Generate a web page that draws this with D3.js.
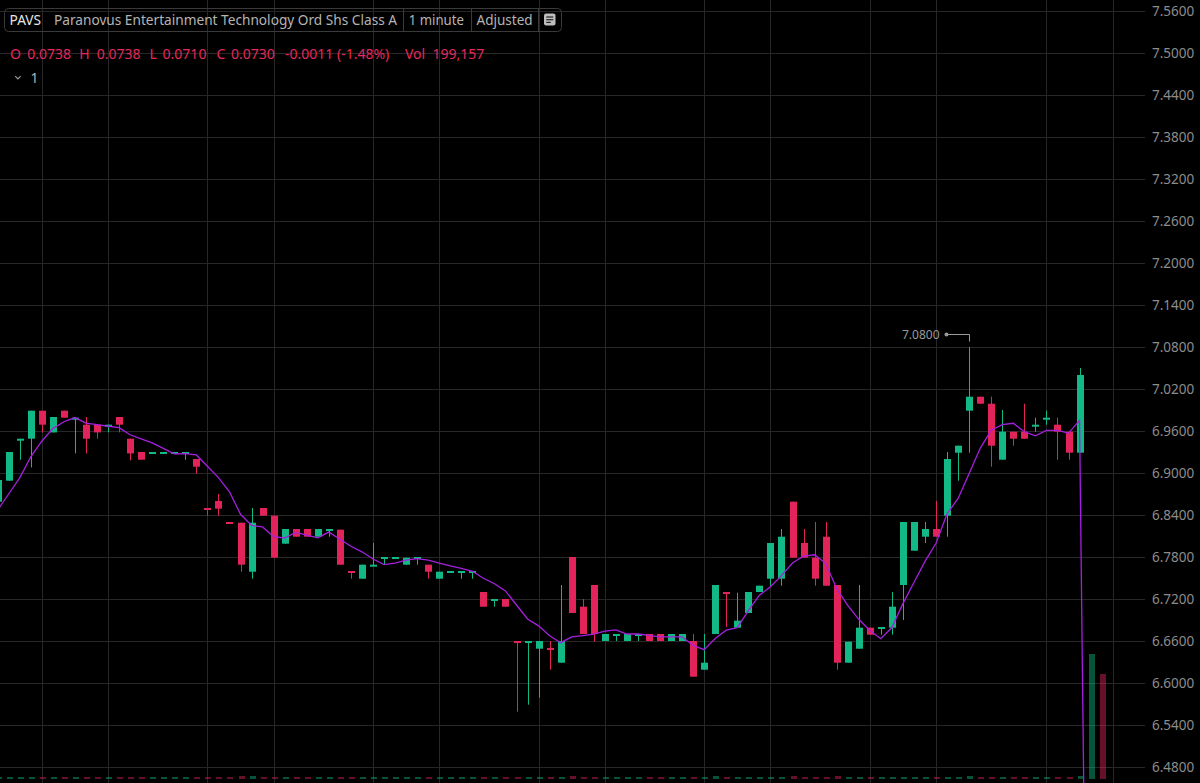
<!DOCTYPE html>
<html>
<head>
<meta charset="utf-8">
<script src="https://cdn.jsdelivr.net/npm/d3@7"></script>
<style>
  html, body { margin: 0; padding: 0; background: #000; overflow: hidden; }
  svg { display: block; }
</style>
</head>
<body>
<svg id="chart"></svg>
<script>
// 1 minute bars, PAVS. last two bars are after the 1:100 drop (off the price scale)
const open = [
  6.859, 6.889, 6.948, 6.949, 6.989, 6.958, 6.989, 6.978, 6.969, 6.969,
  6.966, 6.980, 6.949, 6.930, 6.929, 6.929, 6.929, 6.929, 6.920, 6.850,
  6.860, 6.830, 6.829, 6.759, 6.850, 6.839, 6.799, 6.820, 6.820, 6.809,
  6.819, 6.819, 6.760, 6.749, 6.768, 6.779, 6.779, 6.769, 6.779, 6.769,
  6.749, 6.759, 6.759, 6.759, 6.730, 6.719, 6.720, 6.660, 6.659, 6.649,
  6.650, 6.629, 6.780, 6.709, 6.740, 6.660, 6.669, 6.660, 6.669, 6.670,
  6.670, 6.660, 6.660, 6.660, 6.619, 6.670, 6.730, 6.679, 6.700, 6.730,
  6.749, 6.749, 6.859, 6.800, 6.779, 6.809, 6.740, 6.629, 6.649, 6.679,
  6.679, 6.679, 6.740, 6.789, 6.809, 6.820, 6.839, 6.929, 6.989, 7.009,
  6.999, 6.919, 6.959, 6.959, 6.968, 6.978, 6.969, 6.959, 6.929, 0.0712,
  0.0738
];
const high = [
  6.890, 6.930, 6.949, 6.989, 6.989, 6.980, 6.989, 6.979, 6.980, 6.969,
  6.969, 6.980, 6.949, 6.930, 6.930, 6.930, 6.930, 6.930, 6.920, 6.850,
  6.870, 6.830, 6.829, 6.850, 6.850, 6.839, 6.820, 6.820, 6.820, 6.820,
  6.820, 6.819, 6.760, 6.769, 6.800, 6.780, 6.780, 6.779, 6.780, 6.769,
  6.759, 6.760, 6.760, 6.760, 6.730, 6.720, 6.720, 6.660, 6.660, 6.660,
  6.660, 6.740, 6.780, 6.720, 6.740, 6.670, 6.670, 6.670, 6.670, 6.670,
  6.670, 6.670, 6.670, 6.670, 6.670, 6.740, 6.730, 6.729, 6.730, 6.739,
  6.800, 6.820, 6.859, 6.820, 6.830, 6.830, 6.740, 6.659, 6.740, 6.679,
  6.680, 6.730, 6.830, 6.830, 6.830, 6.860, 6.930, 6.939, 7.080, 7.009,
  7.009, 6.990, 6.959, 6.999, 6.979, 6.989, 6.979, 6.959, 7.050, 0.0745,
  0.0738
];
const low = [
  6.859, 6.889, 6.919, 6.908, 6.958, 6.958, 6.979, 6.928, 6.928, 6.949,
  6.958, 6.958, 6.918, 6.919, 6.929, 6.929, 6.929, 6.919, 6.899, 6.839,
  6.839, 6.829, 6.759, 6.749, 6.839, 6.779, 6.799, 6.809, 6.809, 6.809,
  6.809, 6.769, 6.749, 6.749, 6.768, 6.769, 6.779, 6.769, 6.769, 6.749,
  6.749, 6.759, 6.749, 6.749, 6.709, 6.709, 6.709, 6.559, 6.569, 6.579,
  6.619, 6.629, 6.700, 6.670, 6.659, 6.660, 6.660, 6.660, 6.660, 6.660,
  6.660, 6.660, 6.660, 6.609, 6.619, 6.670, 6.680, 6.679, 6.700, 6.730,
  6.739, 6.739, 6.779, 6.779, 6.739, 6.739, 6.619, 6.629, 6.649, 6.669,
  6.669, 6.669, 6.690, 6.789, 6.800, 6.809, 6.809, 6.889, 6.929, 6.999,
  6.909, 6.919, 6.939, 6.949, 6.959, 6.969, 6.919, 6.919, 6.929, 0.0705,
  0.0710
];
const close = [
  6.890, 6.930, 6.949, 6.989, 6.969, 6.980, 6.979, 6.979, 6.949, 6.958,
  6.969, 6.969, 6.928, 6.919, 6.930, 6.930, 6.930, 6.930, 6.909, 6.849,
  6.849, 6.829, 6.769, 6.829, 6.839, 6.779, 6.820, 6.809, 6.809, 6.820,
  6.820, 6.769, 6.759, 6.769, 6.769, 6.780, 6.780, 6.779, 6.780, 6.759,
  6.759, 6.760, 6.760, 6.760, 6.709, 6.720, 6.709, 6.659, 6.660, 6.660,
  6.649, 6.660, 6.700, 6.670, 6.670, 6.670, 6.670, 6.670, 6.670, 6.660,
  6.660, 6.670, 6.670, 6.609, 6.629, 6.740, 6.729, 6.689, 6.730, 6.739,
  6.800, 6.809, 6.779, 6.779, 6.749, 6.739, 6.629, 6.659, 6.679, 6.669,
  6.680, 6.709, 6.830, 6.830, 6.820, 6.809, 6.920, 6.939, 7.009, 6.999,
  6.939, 6.959, 6.949, 6.949, 6.969, 6.979, 6.959, 6.929, 7.040, 0.0741,
  0.0730
];
const volume = [
  3800, 4200, 3100, 4500, 3600, 3300, 2900, 3400, 3900, 3000,
  2800, 3200, 3700, 3100, 2600, 2500, 2700, 3000, 3500, 3300,
  3600, 2900, 4800, 5200, 3100, 4400, 3400, 2900, 3000, 3200,
  2800, 4300, 3100, 3500, 3300, 2900, 2700, 3000, 2800, 3200,
  3100, 2600, 2800, 2700, 3600, 2900, 3000, 4700, 4100, 3900,
  3300, 4600, 5100, 3800, 4400, 2900, 2700, 2800, 2600, 2900,
  3000, 2800, 2900, 4200, 3500, 4800, 3100, 3300, 3700, 3200,
  4100, 4300, 4900, 3700, 4000, 4400, 5000, 3800, 3900, 2900,
  2800, 3600, 4700, 4100, 3300, 3200, 4600, 3600, 5200, 3100,
  4300, 3800, 3000, 3400, 2900, 3000, 3300, 3400, 5000, 236000,
  199157
];
// closes of the four bars before the first one on screen (only feed the MA)
const leadCloses = [6.815, 6.834, 6.839, 6.857];
const maPeriod = 5;

const priceTicks = [6.48, 6.54, 6.60, 6.66, 6.72, 6.78, 6.84, 6.90, 6.96, 7.02,
                    7.08, 7.14, 7.20, 7.26, 7.32, 7.38, 7.44, 7.50, 7.56];
// bars where the time grid falls
const timeGridBars = [4, 10, 19, 25, 34, 40, 49, 55, 64, 70, 79, 85, 95, 101];

const ticker = "PAVS";
const security = "Paranovus Entertainment Technology Ord Shs Class A";
const interval = "1 minute";
const adjust = "Adjusted";

const width = 1200, height = 783;
const green = "#12b886", red = "#e2245a";
const gridColor = "#272727";
const font = "'Noto Sans', 'Open Sans', sans-serif";

const svg = d3.select("#chart")
    .attr("width", width)
    .attr("height", height)
    .style("background", "#000");

const x = d3.scaleLinear().domain([0, 101]).range([-2.37, 1112.67]);
const y = d3.scaleLinear().domain([6.48, 7.56]).range([767, 11]);
const yVol = d3.scaleLinear().domain([0, 250000]).range([779, 647]);

const bars = close.map((c, i) => ({
    i, o: open[i], h: high[i], l: low[i], c, v: volume[i], up: c >= open[i]
}));

const allCloses = leadCloses.concat(close);
const ma = close.map((c, i) => {
    const k = i + leadCloses.length;
    return d3.mean(allCloses.slice(k - maPeriod + 1, k + 1));
});

// grid
svg.append("g")
    .selectAll("line")
    .data(priceTicks)
    .join("line")
    .attr("x1", 0)
    .attr("x2", 1145)
    .attr("y1", d => Math.round(y(d)) + 0.5)
    .attr("y2", d => Math.round(y(d)) + 0.5)
    .attr("stroke", gridColor);

svg.append("g")
    .selectAll("line")
    .data(timeGridBars)
    .join("line")
    .attr("x1", d => Math.round(x(d)) + 0.5)
    .attr("x2", d => Math.round(x(d)) + 0.5)
    .attr("y1", 0)
    .attr("y2", height)
    .attr("stroke", gridColor);

// price axis
svg.append("g")
    .attr("transform", "translate(1148,0)")
    .call(d3.axisRight(y)
        .tickValues(priceTicks)
        .tickSize(0)
        .tickPadding(4)
        .tickFormat(d3.format(".4f")))
    .call(g => g.select(".domain").remove())
    .selectAll("text")
    .attr("fill", "#8c8c8c")
    .style("font", `13.5px ${font}`);

// volume (min 2px so the quiet bars still show as a dashed strip)
svg.append("g")
    .attr("shape-rendering", "crispEdges")
    .selectAll("rect")
    .data(bars)
    .join("rect")
    .attr("x", d => Math.round(x(d.i)) - 2)
    .attr("width", 6)
    .attr("y", d => Math.min(yVol(0) - 2, Math.round(yVol(d.v))))
    .attr("height", d => Math.max(2, yVol(0) - Math.round(yVol(d.v))))
    .attr("fill", d => d.up ? green : red)
    .attr("fill-opacity", 0.45);

// candles
const candle = svg.append("g")
    .selectAll("g")
    .data(bars)
    .join("g");

candle.append("line")
    .attr("x1", d => Math.round(x(d.i)) + 0.5)
    .attr("x2", d => Math.round(x(d.i)) + 0.5)
    .attr("y1", d => y(d.h))
    .attr("y2", d => y(d.l))
    .attr("stroke", d => d.up ? green : red);

candle.append("rect")
    .attr("x", d => Math.round(x(d.i)) - 3)
    .attr("width", 7)
    .attr("y", d => y(Math.max(d.o, d.c)))
    .attr("height", d => Math.max(2, Math.abs(y(d.o) - y(d.c))))
    .attr("fill", d => d.up ? green : red);

// moving average
svg.append("path")
    .datum(ma)
    .attr("fill", "none")
    .attr("stroke", "#a61fe0")
    .attr("stroke-width", 1.3)
    .attr("d", d3.line()
        .x((d, i) => x(i))
        .y(d => y(d)));

// session high marker
const hiIdx = d3.maxIndex(high);
const hx = Math.round(x(hiIdx)) + 0.5, hy = Math.round(y(high[hiIdx])) - 12.5;
const marker = svg.append("g");
marker.append("path")
    .attr("d", `M${hx - 23},${hy}H${hx}V${hy + 7}`)
    .attr("fill", "none")
    .attr("stroke", "#9a9a9a");
marker.append("circle")
    .attr("cx", hx - 23)
    .attr("cy", hy)
    .attr("r", 2)
    .attr("fill", "#9a9a9a");
marker.append("text")
    .attr("x", hx - 30)
    .attr("y", hy)
    .attr("dy", "0.35em")
    .attr("text-anchor", "end")
    .attr("fill", "#9a9a9a")
    .style("font", `12px ${font}`)
    .text(d3.format(".4f")(high[hiIdx]));

// header: title box
const head = svg.append("g").style("font", `14px ${font}`);
head.append("rect")
    .attr("x", 4.5).attr("y", 8.5)
    .attr("width", 557).attr("height", 23)
    .attr("rx", 4)
    .attr("fill", "none")
    .attr("stroke", "#3a3a3a");
head.selectAll("line.sep")
    .data([403.5, 471.5, 538.5])
    .join("line")
    .attr("class", "sep")
    .attr("x1", d => d).attr("x2", d => d)
    .attr("y1", 9).attr("y2", 31)
    .attr("stroke", "#3a3a3a");
head.selectAll("text.title")
    .data([[ticker, 9.6, "#e6e6e6", 31.5], [security, 54, "#b4b4b4", 343],
           [interval, 408.7, "#b4b4b4", 55.3], [adjust, 476.5, "#b4b4b4", 56.2]])
    .join("text")
    .attr("class", "title")
    .attr("x", d => d[1])
    .attr("y", 25)
    .attr("fill", d => d[2])
    .attr("textLength", d => d[3])
    .attr("lengthAdjust", "spacingAndGlyphs")
    .text(d => d[0]);
head.append("rect")
    .attr("x", 544).attr("y", 13.5)
    .attr("width", 11.5).attr("height", 12)
    .attr("rx", 2)
    .attr("fill", "#bdbdbd");
head.selectAll("line.ico")
    .data([[17, 7], [19.7, 7], [22.4, 4.5]])
    .join("line")
    .attr("class", "ico")
    .attr("x1", 546.3).attr("x2", d => 546.3 + d[1])
    .attr("y1", d => d[0]).attr("y2", d => d[0])
    .attr("stroke", "#222")
    .attr("stroke-width", 1.2);

// header: last bar values
const last = close.length - 1;
const chg = close[last] - close[last - 1];
const f4 = d3.format(".4f");
const ohlc = [
    ["O", 10], [f4(open[last]), 27.2],
    ["H", 79.2], [f4(high[last]), 96.8],
    ["L", 149.6], [f4(low[last]), 162.6],
    ["C", 216.6], [f4(close[last]), 231],
    [`${f4(chg).replace("−", "-")} (${d3.format(".2f")(chg / close[last - 1] * 100).replace("−", "-")}%)`, 285],
    ["Vol", 405], [d3.format(",")(volume[last]), 432.4]
];
head.selectAll("text.ohlc")
    .data(ohlc)
    .join("text")
    .attr("class", "ohlc")
    .attr("x", d => d[1])
    .attr("y", 58.5)
    .attr("fill", chg < 0 ? "#e5285e" : green)
    .text(d => d[0]);

// indicator row
head.append("path")
    .attr("d", "M15.2,76.2L17.9,79L20.6,76.2")
    .attr("fill", "none")
    .attr("stroke", "#a0a0a0")
    .attr("stroke-width", 1.1);
head.append("text")
    .attr("x", 30.5)
    .attr("y", 82.5)
    .attr("fill", "#b4b4b4")
    .text("1");
</script>
</body>
</html>
